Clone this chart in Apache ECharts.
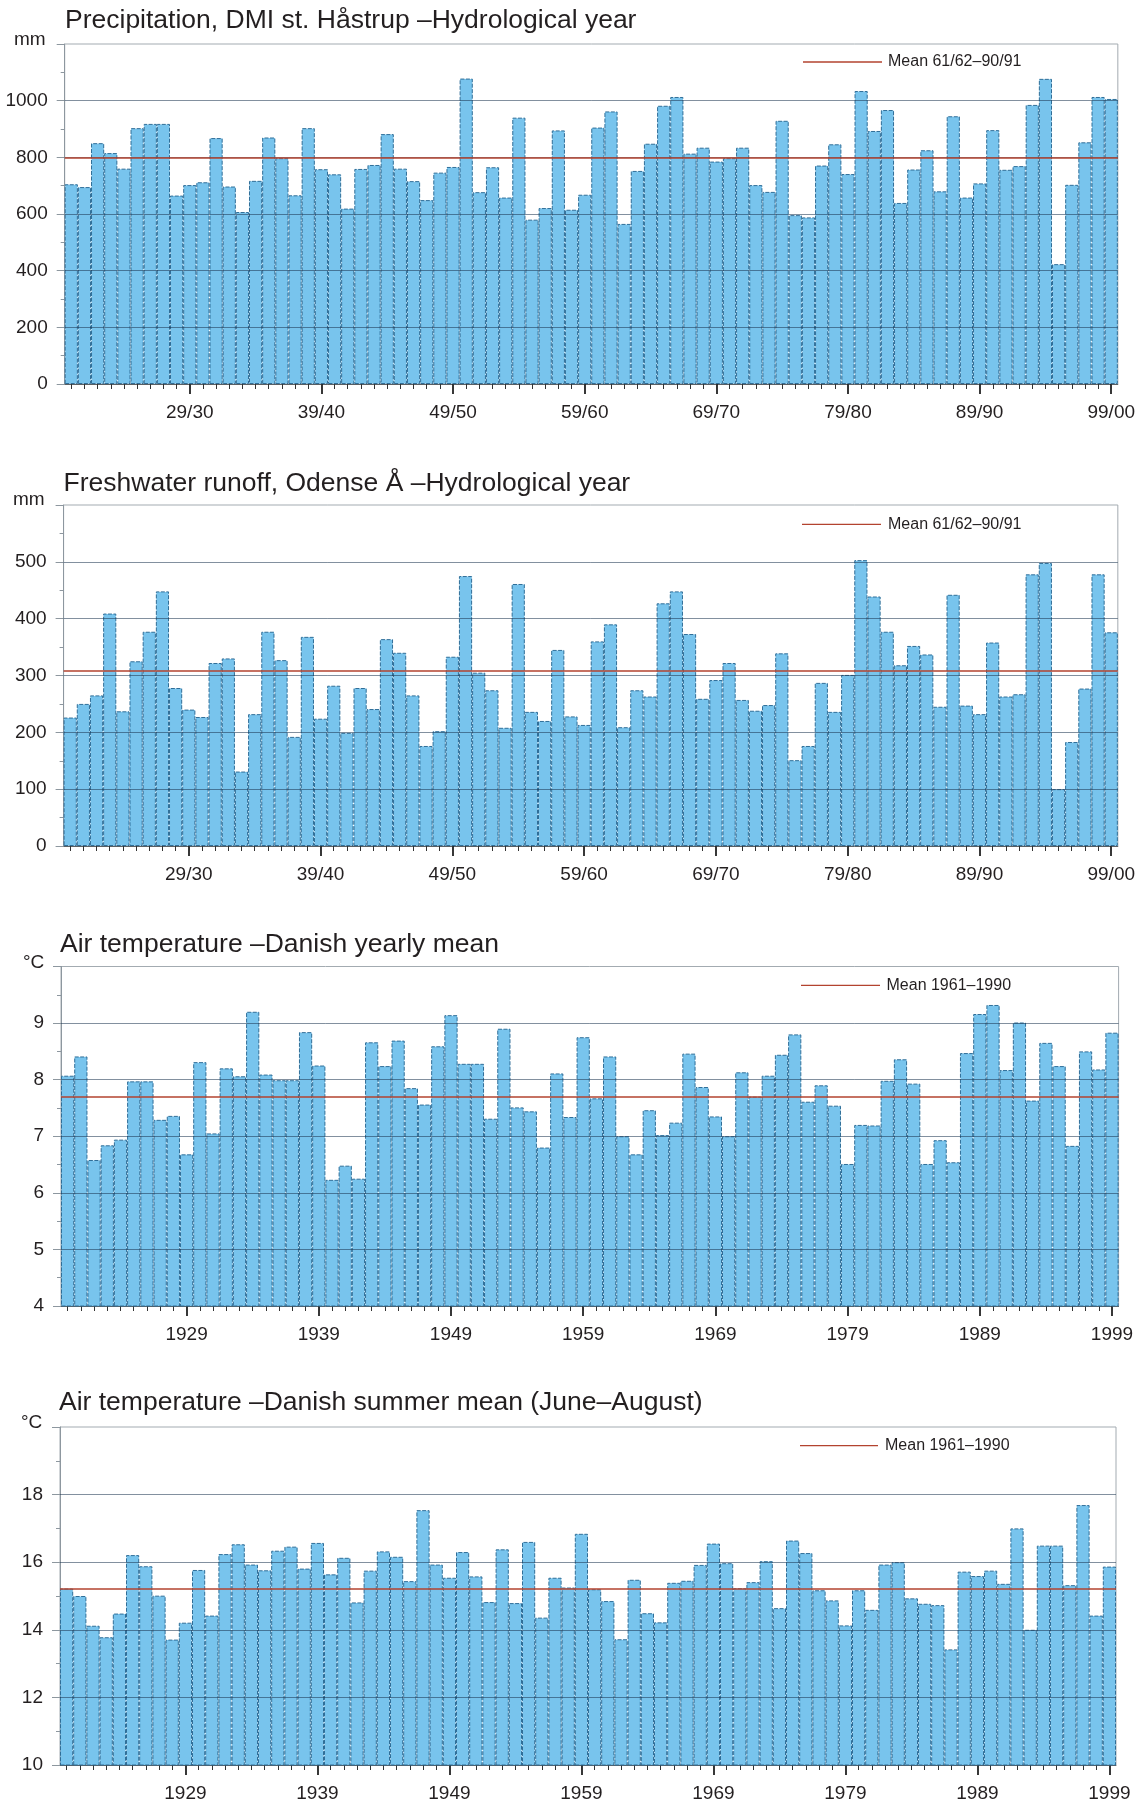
<!DOCTYPE html>
<html>
<head>
<meta charset="utf-8">
<title>Precipitation, runoff and air temperature</title>
<script src="https://cdn.jsdelivr.net/npm/echarts@6/dist/echarts.min.js"></script>
<style>
  html, body { margin: 0; padding: 0; background: #ffffff; }
  #chart { width: 1138px; height: 1804px; }
</style>
</head>
<body>
<div id="chart"></div>
<script>
// ---- categories -------------------------------------------------------
const calendarYears = [];
for (let y = 1920; y <= 1999; y++) calendarYears.push(String(y));
const two = n => String(n % 100).padStart(2, '0');
const hydroYears = calendarYears.map(y => two(+y) + '/' + two(+y + 1));

// ---- series values ----------------------------------------------------
// Precipitation, DMI st. Håstrup, hydrological year (mm)
const precipitation = [
  705, 695, 850, 815, 760, 903, 918, 918, 665, 702,
  712, 868, 697, 607, 717, 870, 797, 666, 903, 758,
  740, 619, 759, 773, 882, 760, 716, 649, 746, 766,
  1078, 677, 765, 658, 940, 580, 621, 895, 615, 668,
  905, 962, 565, 752, 848, 982, 1013, 813, 834, 785,
  797, 834, 702, 678, 929, 596, 588, 771, 846, 741,
  1034, 893, 967, 639, 757, 825, 680, 945, 658, 708,
  896, 756, 769, 985, 1077, 423, 703, 853, 1013, 1006
];
const precipitationMean = 800;

// Freshwater runoff, Odense Å, hydrological year (mm)
const runoff = [
  226, 250, 265, 409, 237, 325, 377, 448, 278, 240,
  227, 322, 330, 131, 232, 377, 327, 192, 368, 224,
  282, 199, 278, 241, 364, 340, 265, 176, 202, 333,
  475, 305, 274, 208, 461, 236, 220, 345, 228, 213,
  360, 390, 209, 274, 263, 427, 448, 373, 259, 292,
  322, 257, 238, 248, 339, 151, 176, 287, 236, 301,
  503, 439, 377, 318, 352, 337, 245, 442, 247, 232,
  358, 263, 267, 478, 498, 100, 183, 277, 478, 376
];
const runoffMean = 309;

// Danish yearly mean air temperature (°C)
const yearlyTemp = [
  8.07, 8.41, 6.58, 6.84, 6.94, 7.97, 7.97, 7.29, 7.36, 6.68,
  8.31, 7.05, 8.20, 8.06, 9.20, 8.09, 7.99, 7.99, 8.84, 8.25,
  6.23, 6.48, 6.25, 8.66, 8.24, 8.69, 7.85, 7.56, 8.59, 9.14,
  8.28, 8.28, 7.31, 8.90, 7.51, 7.44, 6.80, 8.11, 7.34, 8.75,
  7.67, 8.41, 7.00, 6.68, 7.46, 7.02, 7.24, 8.46, 7.87, 7.35,
  7.00, 8.13, 7.70, 8.07, 8.44, 8.80, 7.61, 7.90, 7.54, 6.51,
  7.20, 7.19, 7.98, 8.36, 7.93, 6.51, 6.93, 6.54, 8.47, 9.16,
  9.32, 8.17, 9.01, 7.63, 8.65, 8.24, 6.83, 8.50, 8.18, 8.83
];
const yearlyTempMean = 7.7;

// Danish summer (June–August) mean air temperature (°C)
const summerTemp = [
  15.22, 15.00, 14.12, 13.78, 14.48, 16.21, 15.88, 15.01, 13.71, 14.21,
  15.77, 14.42, 16.24, 16.53, 15.93, 15.76, 16.34, 16.46, 15.81, 16.57,
  15.64, 16.13, 14.81, 15.75, 16.32, 16.16, 15.44, 17.54, 15.93, 15.54,
  16.30, 15.58, 14.82, 16.38, 14.79, 16.60, 14.36, 15.54, 15.25, 16.84,
  15.20, 14.85, 13.72, 15.48, 14.49, 14.22, 15.39, 15.45, 15.92, 16.55,
  15.97, 15.23, 15.41, 16.03, 14.64, 16.64, 16.27, 15.17, 14.87, 14.13,
  15.17, 14.59, 15.93, 16.00, 14.93, 14.77, 14.73, 13.42, 15.72, 15.59,
  15.75, 15.36, 17.00, 14.00, 16.49, 16.49, 15.32, 17.69, 14.42, 15.87
];
const summerTempMean = 15.2;

// ---- value-axis ticks -------------------------------------------------
const precipitationTicks = [0, 200, 400, 600, 800, 1000, 1200];
const runoffTicks = [0, 100, 200, 300, 400, 500, 600];
const yearlyTempTicks = [4, 5, 6, 7, 8, 9, 10];
const summerTempTicks = [10, 12, 14, 16, 18, 20];

// ---- panel texts ------------------------------------------------------
const titles = [
  'Precipitation, DMI st. Håstrup \u2013Hydrological year',
  'Freshwater runoff, Odense Å \u2013Hydrological year',
  'Air temperature \u2013Danish yearly mean',
  'Air temperature \u2013Danish summer mean (June\u2013August)'
];
const units = ['mm', 'mm', '°C', '°C'];
const legendNames = ['Mean 61/62\u201390/91', 'Mean 61/62\u201390/91', 'Mean 1961\u20131990', 'Mean 1961\u20131990'];

// ---- drawing ----------------------------------------------------------
const FONT = "'Liberation Sans', Arial, Helvetica, sans-serif";
const TEXT = '#231f20';
const AXIS_GREY = '#8d979f';
const BAR_FILL = '#78c4ed';
const BAR_EDGE = '#2f6e98';
const MEAN_RED = '#b3432f';

const panels = [
  { cats: hydroYears, values: precipitation, mean: precipitationMean, ticks: precipitationTicks,
    grid: { left: 64.7, right: 17, top: 44, height: 340 },
    titleX: 65, titleY: 20.5, unitX: 14, unitY: 40, legendY: 62, legendX1: 803, legendX2: 882, legendTextX: 888 },
  { cats: hydroYears, values: runoff, mean: runoffMean, ticks: runoffTicks,
    grid: { left: 63.6, right: 18, top: 505, height: 341 },
    titleX: 63.6, titleY: 483.5, unitX: 13, unitY: 500, legendY: 524.3, legendX1: 802, legendX2: 881, legendTextX: 888 },
  { cats: calendarYears, values: yearlyTemp, mean: yearlyTempMean, ticks: yearlyTempTicks,
    grid: { left: 61, right: 19.4, top: 966.5, height: 339.5 },
    titleX: 60, titleY: 945, unitX: 23, unitY: 963, legendY: 985.3, legendX1: 801, legendX2: 880, legendTextX: 886.5 },
  { cats: calendarYears, values: summerTemp, mean: summerTempMean, ticks: summerTempTicks,
    grid: { left: 60, right: 22, top: 1427, height: 338 },
    titleX: 59, titleY: 1403, unitX: 21, unitY: 1422.5, legendY: 1445.7, legendX1: 800, legendX2: 878, legendTextX: 885 }
];

const grid = [], xAxis = [], yAxis = [], series = [], graphic = [];
const everyTenth = idx => idx % 10 === 9;

panels.forEach((p, i) => {
  grid.push(Object.assign({ show: true, borderColor: '#a3abb1', borderWidth: 1, backgroundColor: 'transparent' }, p.grid));

  const tMin = p.ticks[0], tMax = p.ticks[p.ticks.length - 1];
  const step = p.ticks[1] - p.ticks[0];

  // labelled axis with the long decade ticks
  xAxis.push({
    gridIndex: i, type: 'category', data: p.cats, boundaryGap: true,
    axisLine: { show: true, onZero: false, lineStyle: { color: '#5a5f63', width: 1 } },
    axisTick: { show: true, alignWithLabel: true, interval: everyTenth, length: 10, lineStyle: { color: '#222', width: 1.8 } },
    axisLabel: { interval: everyTenth, margin: 19, fontSize: 19, color: TEXT, fontFamily: FONT },
    splitLine: { show: false }
  });
  // companion axis carrying the short tick for every year
  xAxis.push({
    gridIndex: i, type: 'category', data: p.cats, boundaryGap: true, position: 'bottom',
    axisLine: { show: false, onZero: false },
    axisTick: { show: true, alignWithLabel: true, interval: 0, length: 5, lineStyle: { color: '#333', width: 1 } },
    axisLabel: { show: false },
    splitLine: { show: false }
  });

  yAxis.push({
    gridIndex: i, type: 'value', min: tMin, max: tMax, interval: step,
    axisLine: { show: true, lineStyle: { color: AXIS_GREY, width: 1 } },
    axisTick: { show: true, length: 8, lineStyle: { color: AXIS_GREY, width: 1 } },
    minorTick: { show: true, splitNumber: 2, length: 4, lineStyle: { color: AXIS_GREY, width: 1 } },
    splitLine: { show: false },
    axisLabel: { margin: 17, fontSize: 19, color: TEXT, fontFamily: FONT,
                 formatter: v => (v === tMax ? '' : String(v)) }
  });

  // grid lines laid over the bars, then the reference mean
  const gridLines = p.ticks.slice(1, -1).map(v => ({
    yAxis: v, lineStyle: { color: 'rgba(28,52,80,0.55)', width: 1, type: 'solid' }
  }));
  gridLines.push({ yAxis: p.mean, lineStyle: { color: MEAN_RED, width: 1.6, type: 'solid' } });

  series.push({
    type: 'bar', name: legendNames[i] + ' ' + i,
    xAxisIndex: 2 * i, yAxisIndex: i,
    data: p.values, barWidth: '100%', barGap: '0%',
    itemStyle: { color: BAR_FILL, borderColor: BAR_EDGE, borderWidth: 1, borderType: [4, 1.5] },
    emphasis: { disabled: true },
    animation: false,
    markLine: { silent: true, symbol: 'none', animation: false, label: { show: false }, data: gridLines }
  });

  graphic.push({
    type: 'text', x: p.titleX, y: p.titleY, silent: true,
    style: { text: titles[i], fill: TEXT, font: `26.5px ${FONT}`, verticalAlign: 'middle', align: 'left' }
  });
  graphic.push({
    type: 'text', x: p.unitX, y: p.unitY, silent: true,
    style: { text: units[i], fill: TEXT, font: `19px ${FONT}`, verticalAlign: 'middle', align: 'left' }
  });
  graphic.push({
    type: 'line', silent: true,
    shape: { x1: p.legendX1, y1: p.legendY, x2: p.legendX2, y2: p.legendY },
    style: { stroke: MEAN_RED, lineWidth: 1.3 }
  });
  graphic.push({
    type: 'text', x: p.legendTextX, y: p.legendY, silent: true,
    style: { text: legendNames[i], fill: TEXT, font: `16px ${FONT}`, verticalAlign: 'middle', align: 'left' }
  });
});

const chart = echarts.init(document.getElementById('chart'), null, { renderer: 'canvas' });
chart.setOption({
  backgroundColor: '#ffffff',
  animation: false,
  textStyle: { fontFamily: FONT },
  grid, xAxis, yAxis, series, graphic
});
</script>
</body>
</html>
